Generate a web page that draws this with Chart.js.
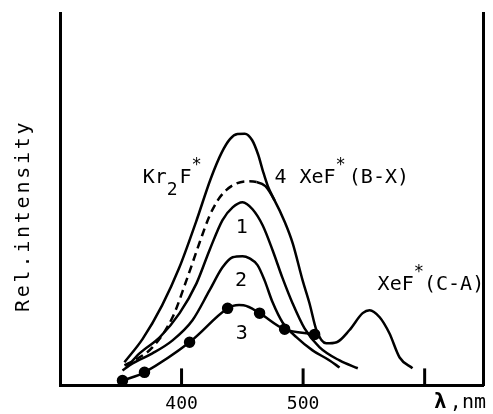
<!DOCTYPE html>
<html>
<head>
<meta charset="utf-8">
<script src="https://cdn.jsdelivr.net/npm/chart.js@4"></script>
<style>
  html, body { margin: 0; padding: 0; background: #fff; }
  #wrap { width: 493px; height: 414px; }
</style>
</head>
<body>
<div id="wrap"><canvas id="spectra"></canvas></div>
<script>
// valori (lunghezza d'onda in nm, intensita' relativa 0-100)
const kr2fX = [353, 368, 384, 398, 412, 424, 433, 440, 446, 452, 458, 463, 467, 471, 476.5];
const kr2fY = [6.2, 12.5, 21.5, 31.5, 44.0, 55.5, 62.5, 66.2, 67.5, 67.6, 65.9, 62.0, 57.5, 53.5, 49.7];

const curve4X = [353, 361, 376, 392.6, 404, 415, 423, 430, 437, 445, 453.5, 461.7, 469, 476.5, 485, 491.4, 499.6, 505.3, 511, 519, 527.6, 538, 549, 554.7, 563, 571, 579.4, 590];
const curve4Y = [5.4, 6.7, 10.2, 18.3, 28.2, 38.5, 45.5, 49.8, 52.5, 54.2, 54.8, 54.6, 53.5, 49.7, 43.8, 38.2, 28.2, 22.0, 14.8, 11.3, 11.6, 14.8, 19.4, 20.2, 18.3, 14.0, 7.5, 4.6];

const curve1X = [354.7, 365.4, 382, 398.4, 412.3, 423, 433.7, 442, 450.2, 458.4, 466.7, 474.9, 483.1, 491.4, 501.2, 513.6, 530, 545];
const curve1Y = [4.8, 8.6, 12.9, 19.4, 27.4, 36.3, 44.4, 47.8, 49.2, 47.3, 43.0, 36.3, 28.8, 22.0, 15.3, 10.2, 6.7, 4.6];

const curve2X = [351.4, 359.7, 376, 392.6, 409, 423, 433.7, 442, 450.2, 456, 462.5, 468.3, 474.9, 483.1, 494.7, 507.8, 521.8, 530];
const curve2Y = [4.0, 5.9, 8.6, 12.1, 17.5, 25.5, 31.7, 34.4, 34.7, 34.1, 32.3, 28.2, 22.3, 16.9, 12.9, 9.4, 6.7, 4.8];

const curve3X = [351.4, 369.5, 406.6, 437.9, 451, 464.2, 484.8, 509.5];
const curve3Y = [1.3, 3.5, 11.6, 20.7, 21.5, 19.4, 15.1, 13.7];
const curve3Dots = [true, true, true, true, false, true, true, true];

const wavelengthTicks = [400, 500, 600];
const tickLabels = ['400', '500', ''];

const FONT = '"DejaVu Sans Mono", monospace';

const toPoints = (xs, ys) => xs.map((x, i) => ({ x: x, y: ys[i] }));

const lineStyle = {
    borderColor: '#000',
    borderWidth: 2.5,
    pointRadius: 0,
    fill: false,
    cubicInterpolationMode: 'monotone'
};

/* testi e tacche disegnati sopra il grafico */
const labelsPlugin = {
    id: 'labelsPlugin',
    afterDraw(chart) {
        const c = chart.ctx;
        const xs = chart.scales.x;
        const ys = chart.scales.y;
        const area = chart.chartArea;

        // tacche verso l'interno
        c.save();
        c.strokeStyle = '#000';
        c.lineWidth = 3;
        wavelengthTicks.forEach(v => {
            const px = xs.getPixelForValue(v);
            c.beginPath();
            c.moveTo(px, area.bottom);
            c.lineTo(px, area.bottom - 17);
            c.stroke();
        });
        c.restore();

        // scrive una sequenza di pezzi con pedici / apici
        const parts = function (list, x, y) {
            let cx = x;
            c.save();
            c.fillStyle = '#000';
            c.textBaseline = 'alphabetic';
            c.textAlign = 'left';
            list.forEach(p => {
                c.font = (p.size || 20) + 'px ' + FONT;
                c.fillText(p.t, cx, y + (p.dy || 0));
                cx += c.measureText(p.t).width + (p.gap || 0);
            });
            c.restore();
        };

        const X = v => xs.getPixelForValue(v);
        const Y = v => ys.getPixelForValue(v);

        parts([{ t: 'Kr' }, { t: '2', dy: 12, size: 18, gap: 2 }, { t: 'F' }, { t: '*', dy: -13, size: 17 }], X(368), Y(54.3));
        parts([{ t: '4' }], X(476.5), Y(54.3));
        parts([{ t: 'XeF' }, { t: '*', dy: -13, size: 17, gap: 3 }, { t: '(B-X)' }], X(497), Y(54.3));
        parts([{ t: 'XeF' }, { t: '*', dy: -13, size: 17 }, { t: '(C-A)' }], X(561.3), Y(25.5));
        parts([{ t: '1' }], X(444.5), Y(41));
        parts([{ t: '2' }], X(444), Y(26.6));
        parts([{ t: '3' }], X(444.5), Y(12.4));

        // unita' asse x
        c.save();
        c.fillStyle = '#000';
        c.font = 'bold 21px ' + FONT;
        c.fillText('\u03bb', 434, 408);
        c.font = '19px ' + FONT;
        c.fillText(',', 450, 408);
        c.font = '20px ' + FONT;
        c.fillText('nm', 462, 408);
        c.restore();

        // titolo asse y, ruotato
        c.save();
        c.translate(29, 312);
        c.rotate(-Math.PI / 2);
        c.fillStyle = '#000';
        c.font = '20px ' + FONT;
        const title = 'Rel.intensity';
        for (let i = 0; i < title.length; i++) {
            c.fillText(title[i], i * 14.8, 0);
        }
        c.restore();
    }
};

const ctx = document.getElementById('spectra');

const data = {
    datasets: [
        Object.assign({ label: 'Kr2F*', data: toPoints(kr2fX, kr2fY) }, lineStyle),
        Object.assign({
            label: '4',
            data: toPoints(curve4X, curve4Y),
            segment: {
                borderDash: c => c.p1.parsed.x <= 462 ? [8, 5] : []
            }
        }, lineStyle),
        Object.assign({ label: '1', data: toPoints(curve1X, curve1Y) }, lineStyle),
        Object.assign({ label: '2', data: toPoints(curve2X, curve2Y) }, lineStyle),
        Object.assign({}, lineStyle, {
            label: '3',
            data: toPoints(curve3X, curve3Y),
            pointRadius: curve3Dots.map(d => d ? 4.5 : 0),
            pointBackgroundColor: '#000',
            pointBorderColor: '#000',
            tension: 0.35,
            cubicInterpolationMode: 'default'
        })
    ]
};

const config = {
    type: 'line',
    data: data,
    options: {
        responsive: true,
        maintainAspectRatio: false,
        animation: false,
        layout: {
            padding: { left: 60, right: 10, top: 13, bottom: -9 }
        },
        plugins: {
            legend: { display: false },
            tooltip: { enabled: false }
        },
        scales: {
            x: {
                type: 'linear',
                min: 300,
                max: 648,
                afterBuildTicks: axis => {
                    axis.ticks = wavelengthTicks.map(v => ({ value: v }));
                },
                ticks: {
                    color: '#000',
                    padding: 8,
                    maxRotation: 0,
                    font: { family: FONT, size: 18 },
                    callback: (v) => tickLabels[wavelengthTicks.indexOf(v)]
                },
                grid: { display: false, drawTicks: false },
                border: { display: true, width: 3, color: '#000' }
            },
            y: {
                min: 0,
                max: 100,
                ticks: { display: false },
                grid: { display: false, drawTicks: false },
                border: { display: true, width: 3, color: '#000' }
            },
            yRight: {
                position: 'right',
                min: 0,
                max: 100,
                ticks: { display: false },
                grid: { display: false, drawTicks: false },
                border: { display: true, width: 3, color: '#000' }
            }
        }
    },
    plugins: [labelsPlugin]
};

const myChart = new Chart(ctx, config);
</script>
</body>
</html>
